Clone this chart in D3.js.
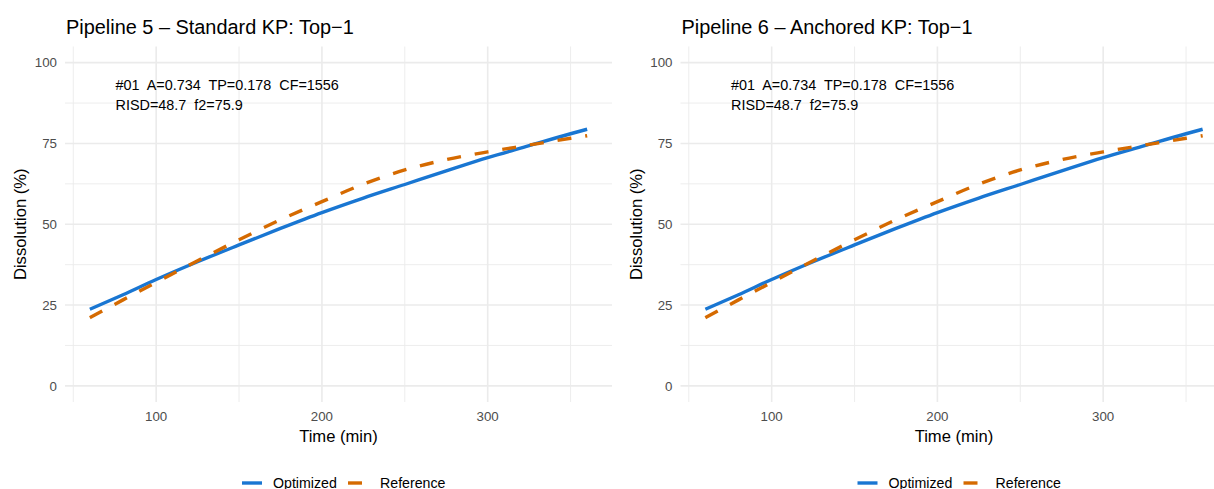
<!DOCTYPE html>
<html>
<head>
<meta charset="utf-8">
<script src="https://cdn.jsdelivr.net/npm/d3@7"></script>
<style>
  body { margin: 0; background: #fff; }
  text { font-family: "Liberation Sans", Arial, Helvetica, sans-serif; white-space: pre; }
</style>
</head>
<body>
<svg id="chart"></svg>
<script>
const width = 1214;
const height = 489;

// data (min, % dissolved)
const times = [60, 80, 100, 125, 150, 175, 200, 225, 250, 275, 300, 325, 350, 360];
const optimized = [23.7, 28.2, 32.9, 38.4, 43.6, 48.7, 53.6, 58.1, 62.3, 66.5, 70.6, 74.3, 78.0, 79.4];
const reference = [21.1, 26.6, 32.0, 38.7, 45.2, 51.4, 57.0, 62.4, 66.8, 70.0, 72.4, 74.5, 76.6, 77.4];

const panelTitles = ["Pipeline 5 \u2013 Standard KP: Top\u22121", "Pipeline 6 \u2013 Anchored KP: Top\u22121"];
const annoLines = ["#01  A=0.734  TP=0.178  CF=1556", "RISD=48.7  f2=75.9"];
const xTicks = [100, 200, 300];
const xMinor = [50, 150, 250, 350];
const yTicks = [0, 25, 50, 75, 100];
const yMinor = [12.5, 37.5, 62.5, 87.5];
const seriesNames = ["Optimized", "Reference"];
const colors = { Optimized: "#1976D2", Reference: "#D56A00" };

const svg = d3.select("#chart")
  .attr("width", width)
  .attr("height", height)
  .attr("viewBox", [0, 0, width, height]);

function drawPanel(offset, title) {
  const g = svg.append("g").attr("transform", `translate(${offset},0)`);

  const x = d3.scaleLinear().domain([45, 375]).range([65, 612]);
  const y = d3.scaleLinear().domain([-5, 105]).range([402, 46.5]);

  // grid
  const grid = g.append("g").attr("stroke", "#ebebeb");
  grid.selectAll(".vmin").data(xMinor).join("line")
    .attr("x1", d => x(d)).attr("x2", d => x(d))
    .attr("y1", y.range()[0]).attr("y2", y.range()[1])
    .attr("stroke-width", 0.9);
  grid.selectAll(".hmin").data(yMinor).join("line")
    .attr("y1", d => y(d)).attr("y2", d => y(d))
    .attr("x1", x.range()[0]).attr("x2", x.range()[1])
    .attr("stroke-width", 0.9);
  grid.selectAll(".vmaj").data(xTicks).join("line")
    .attr("x1", d => x(d)).attr("x2", d => x(d))
    .attr("y1", y.range()[0]).attr("y2", y.range()[1])
    .attr("stroke-width", 1.6);
  grid.selectAll(".hmaj").data(yTicks).join("line")
    .attr("y1", d => y(d)).attr("y2", d => y(d))
    .attr("x1", x.range()[0]).attr("x2", x.range()[1])
    .attr("stroke-width", 1.6);

  // tick labels
  g.append("g").selectAll("text").data(xTicks).join("text")
    .attr("x", d => x(d)).attr("y", 421)
    .attr("text-anchor", "middle")
    .attr("font-size", 13.3).attr("fill", "#4d4d4d")
    .text(d => d);
  g.append("g").selectAll("text").data(yTicks).join("text")
    .attr("x", 57).attr("y", d => y(d) + 4.7)
    .attr("text-anchor", "end")
    .attr("font-size", 13.3).attr("fill", "#4d4d4d")
    .text(d => d);

  // axis titles
  g.append("text")
    .attr("x", (x.range()[0] + x.range()[1]) / 2).attr("y", 441.5)
    .attr("text-anchor", "middle").attr("font-size", 16.6).attr("fill", "#000")
    .text("Time (min)");
  g.append("text")
    .attr("transform", `translate(26,${(y.range()[0] + y.range()[1]) / 2}) rotate(-90)`)
    .attr("text-anchor", "middle").attr("font-size", 16.6).attr("fill", "#000")
    .text("Dissolution (%)");

  // title
  g.append("text")
    .attr("x", 66).attr("y", 33.5)
    .attr("font-size", 19.9).attr("fill", "#000")
    .text(title);

  // lines
  const line = d3.line()
    .x((d, i) => x(times[i]))
    .y(d => y(d))
    .curve(d3.curveMonotoneX);

  g.append("path").datum(optimized)
    .attr("d", line).attr("fill", "none")
    .attr("stroke", colors.Optimized).attr("stroke-width", 3.4);
  g.append("path").datum(reference)
    .attr("d", line).attr("fill", "none")
    .attr("stroke", colors.Reference).attr("stroke-width", 3.4)
    .attr("stroke-dasharray", "14,14");

  // annotation
  g.append("g").selectAll("text").data(annoLines).join("text")
    .attr("x", 115.5).attr("y", (d, i) => 89.5 + i * 20)
    .attr("font-size", 14.4).attr("fill", "#000")
    .text(d => d);

  // legend
  const leg = g.append("g").attr("transform", "translate(0,483)");
  const keyX = [242, 348];
  const labX = [273, 380];
  seriesNames.forEach((s, i) => {
    leg.append("line")
      .attr("x1", keyX[i]).attr("x2", keyX[i] + 20)
      .attr("y1", 0).attr("y2", 0)
      .attr("stroke", colors[s]).attr("stroke-width", 3.4)
      .attr("stroke-dasharray", s === "Reference" ? "14,14" : null);
    leg.append("text")
      .attr("x", labX[i]).attr("y", 5)
      .attr("font-size", 14.2).attr("fill", "#000")
      .text(s);
  });
}

drawPanel(0, panelTitles[0]);
drawPanel(615.5, panelTitles[1]);
</script>
</body>
</html>
